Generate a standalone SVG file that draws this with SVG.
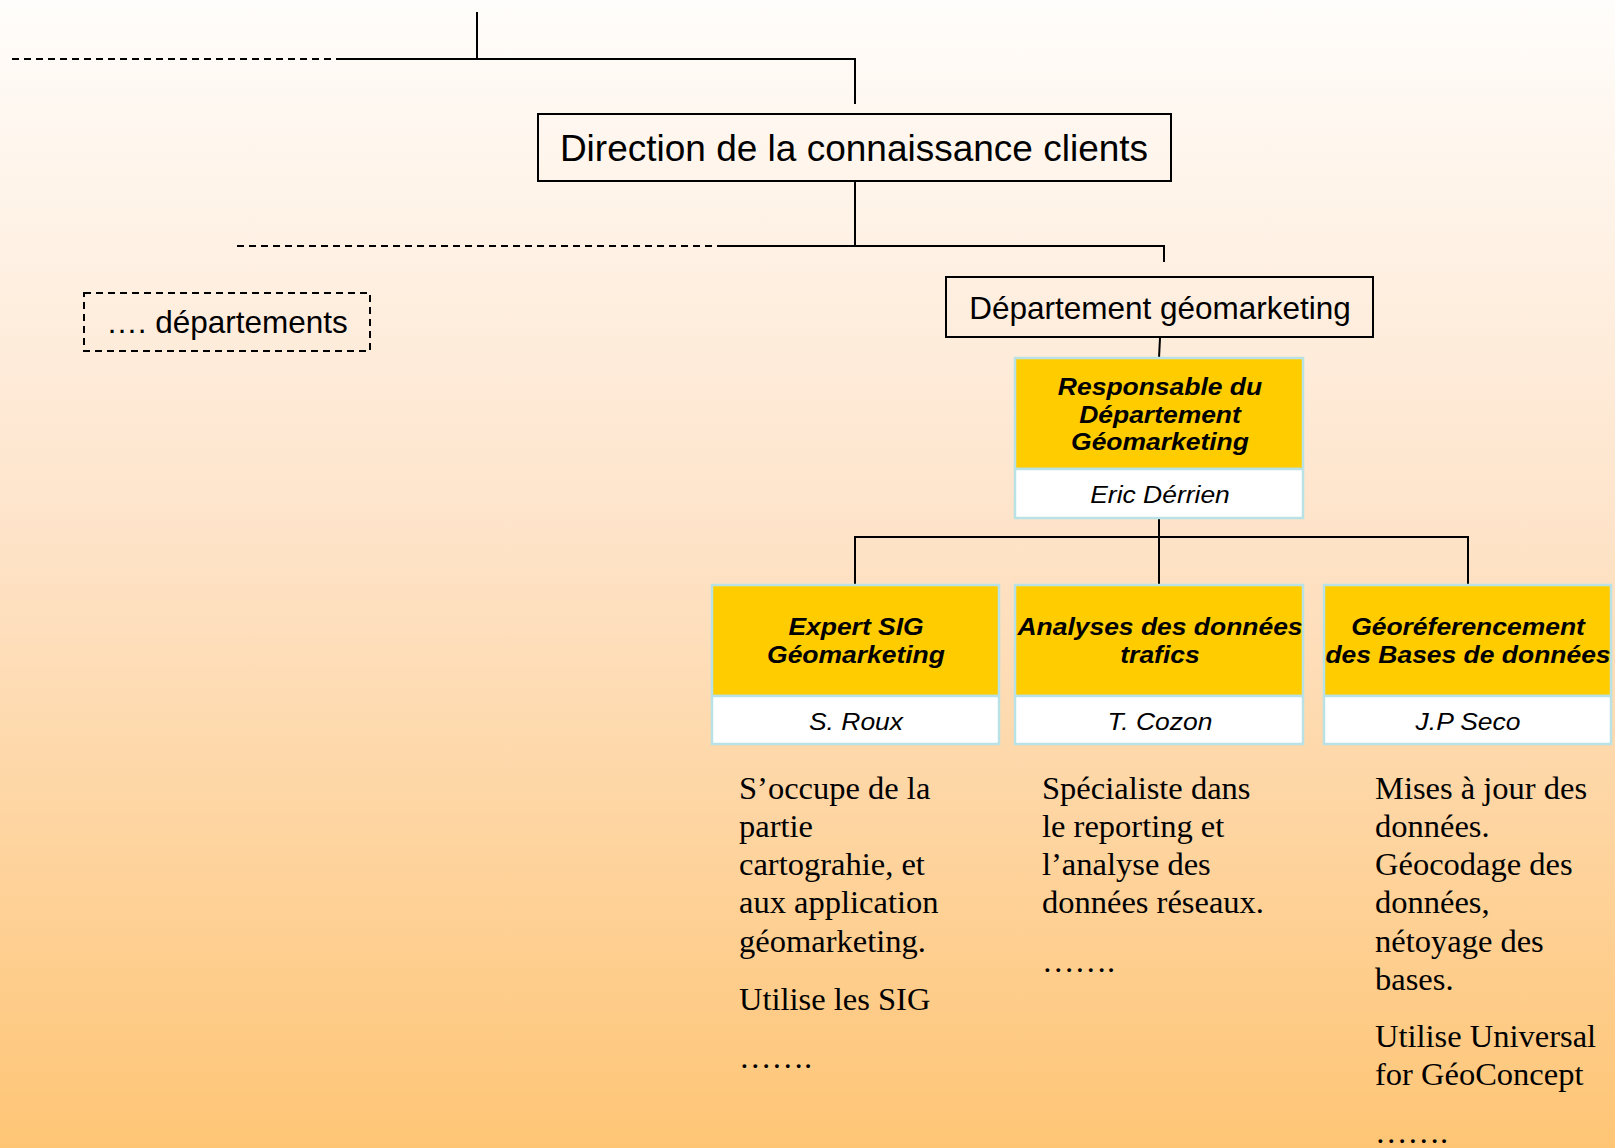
<svg xmlns="http://www.w3.org/2000/svg" width="1615" height="1148" viewBox="0 0 1615 1148">
  <defs>
    <linearGradient id="bg" x1="0" y1="0" x2="0" y2="1">
      <stop offset="0" stop-color="#fffdfb"/>
      <stop offset="0.45" stop-color="#fee4cb"/>
      <stop offset="1" stop-color="#fec575"/>
    </linearGradient>
    <style>
      .conn { stroke: #000; stroke-width: 2; fill: none; }
      .dash { stroke: #000; stroke-width: 2; fill: none; stroke-dasharray: 7 5; }
      .box { fill: none; stroke: #000; stroke-width: 2; }
      .dbox { fill: none; stroke: #000; stroke-width: 2; stroke-dasharray: 7 5; }
      .yel { fill: #ffcc00; stroke: #b8e2e6; stroke-width: 2.5; }
      .wht { fill: #ffffff; stroke: #b8e2e6; stroke-width: 2.5; }
      .sans { font-family: "Liberation Sans", Arial, sans-serif; fill: #000; }
      .title { font-weight: bold; font-style: italic; font-size: 24.5px; }
      .name { font-style: italic; font-size: 24.5px; }
      .body { font-family: "Liberation Serif", "Times New Roman", serif; font-size: 32.5px; fill: #000; }
    </style>
  </defs>

  <rect x="0" y="0" width="1615" height="1148" fill="url(#bg)"/>

  <g id="connectors">
    <line class="conn" x1="477" y1="12" x2="477" y2="59"/>
    <line class="dash" x1="12" y1="59" x2="338" y2="59"/>
    <polyline class="conn" points="338,59 855,59 855,104"/>
    <line class="conn" x1="855" y1="182" x2="855" y2="246"/>
    <line class="dash" x1="237" y1="246" x2="718" y2="246"/>
    <polyline class="conn" points="718,246 1164,246 1164,262"/>
    <line class="conn" x1="1160" y1="338" x2="1159" y2="358"/>
    <line class="conn" x1="1159" y1="518" x2="1159" y2="585"/>
    <polyline class="conn" points="855,585 855,537 1468,537 1468,585"/>
  </g>

  <g id="node-direction">
    <rect class="box" x="538" y="114" width="633" height="67"/>
    <text class="sans" x="854" y="161" font-size="37" text-anchor="middle">Direction de la connaissance clients</text>
  </g>

  <g id="node-autres-departements">
    <rect class="dbox" x="84" y="293" width="286" height="58"/>
    <text class="sans" x="227" y="333" font-size="31.5" text-anchor="middle">…. départements</text>
  </g>

  <g id="node-departement">
    <rect class="box" x="946" y="277" width="427" height="60"/>
    <text class="sans" x="1160" y="319" font-size="31.5" text-anchor="middle">Département géomarketing</text>
  </g>

  <g id="node-responsable">
    <rect class="yel" x="1015" y="358" width="288" height="111"/>
    <rect class="wht" x="1015" y="469" width="288" height="49"/>
    <g class="sans title" text-anchor="middle">
      <text transform="translate(1160,395) scale(1.08,1)">Responsable du</text>
      <text transform="translate(1160,423) scale(1.08,1)">Département</text>
      <text transform="translate(1160,450) scale(1.08,1)">Géomarketing</text>
    </g>
    <text class="sans name" text-anchor="middle" transform="translate(1160,503) scale(1.08,1)">Eric Dérrien</text>
  </g>

  <g id="node-expert-sig">
    <rect class="yel" x="712" y="585" width="287" height="111"/>
    <rect class="wht" x="712" y="696" width="287" height="48"/>
    <g class="sans title" text-anchor="middle">
      <text transform="translate(856,635) scale(1.08,1)">Expert SIG</text>
      <text transform="translate(856,663) scale(1.08,1)">Géomarketing</text>
    </g>
    <text class="sans name" text-anchor="middle" transform="translate(856,730) scale(1.08,1)">S. Roux</text>
  </g>

  <g id="node-analyses">
    <rect class="yel" x="1015" y="585" width="288" height="111"/>
    <rect class="wht" x="1015" y="696" width="288" height="48"/>
    <g class="sans title" text-anchor="middle">
      <text transform="translate(1160,635) scale(1.08,1)">Analyses des données</text>
      <text transform="translate(1160,663) scale(1.08,1)">trafics</text>
    </g>
    <text class="sans name" text-anchor="middle" transform="translate(1160,730) scale(1.08,1)">T. Cozon</text>
  </g>

  <g id="node-georeferencement">
    <rect class="yel" x="1324" y="585" width="287" height="111"/>
    <rect class="wht" x="1324" y="696" width="287" height="48"/>
    <g class="sans title" text-anchor="middle">
      <text transform="translate(1468,635) scale(1.08,1)">Géoréferencement</text>
      <text transform="translate(1468,663) scale(1.08,1)">des Bases de données</text>
    </g>
    <text class="sans name" text-anchor="middle" transform="translate(1468,730) scale(1.08,1)">J.P Seco</text>
  </g>

  <g id="desc-expert-sig" class="body">
    <text x="739" y="799">S’occupe de la</text>
    <text x="739" y="837">partie</text>
    <text x="739" y="875">cartograhie, et</text>
    <text x="739" y="913">aux application</text>
    <text x="739" y="952">géomarketing.</text>
    <text x="739" y="1010">Utilise les SIG</text>
    <text x="739" y="1068">…….</text>
  </g>

  <g id="desc-analyses" class="body">
    <text x="1042" y="799">Spécialiste dans</text>
    <text x="1042" y="837">le reporting et</text>
    <text x="1042" y="875">l’analyse des</text>
    <text x="1042" y="913">données réseaux.</text>
    <text x="1042" y="972">…….</text>
  </g>

  <g id="desc-georeferencement" class="body">
    <text x="1375" y="799">Mises à jour des</text>
    <text x="1375" y="837">données.</text>
    <text x="1375" y="875">Géocodage des</text>
    <text x="1375" y="913">données,</text>
    <text x="1375" y="952">nétoyage des</text>
    <text x="1375" y="990">bases.</text>
    <text x="1375" y="1047">Utilise Universal</text>
    <text x="1375" y="1085">for GéoConcept</text>
    <text x="1375" y="1143">…….</text>
  </g>
</svg>
